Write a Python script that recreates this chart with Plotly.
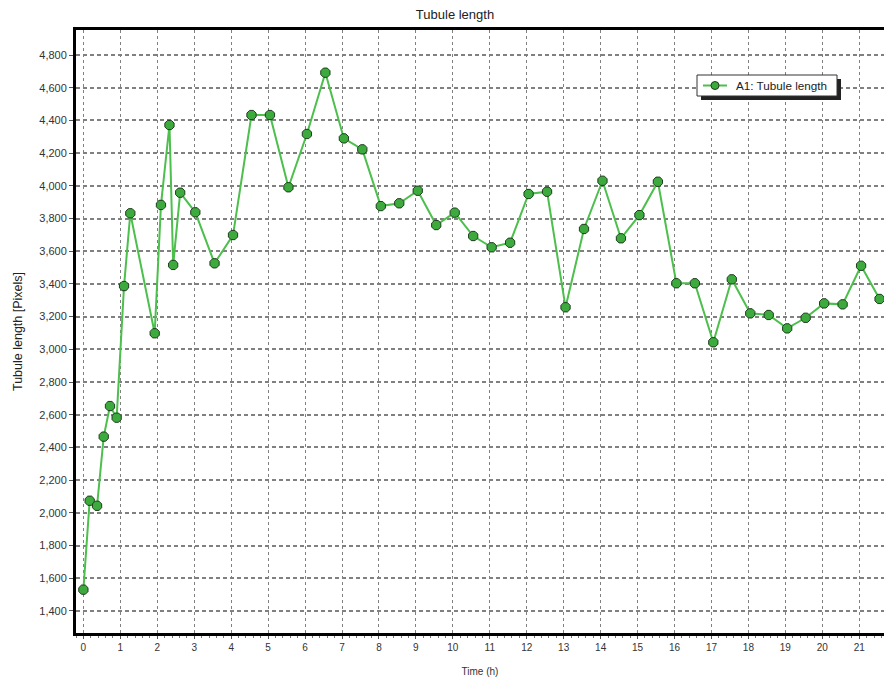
import plotly.graph_objects as go

time_h = [0, 0.17, 0.37, 0.55, 0.72, 0.9, 1.1, 1.27, 1.93, 2.1, 2.33, 2.43, 2.62, 3.03,
          3.55, 4.05, 4.55, 5.05, 5.55, 6.05, 6.55, 7.05, 7.55, 8.05, 8.55, 9.05, 9.55,
          10.05, 10.55, 11.05, 11.55, 12.05, 12.55, 13.05, 13.55, 14.05, 14.55, 15.05,
          15.55, 16.05, 16.55, 17.05, 17.55, 18.05, 18.55, 19.05, 19.55, 20.05, 20.55,
          21.05, 21.55]
tubule_length = [1530, 2074, 2043, 2466, 2653, 2582, 3387, 3832, 3098, 3883, 4372, 3516,
                 3958, 3838, 3526, 3699, 4433, 4433, 3991, 4317, 4692, 4290, 4223, 3876,
                 3893, 3970, 3760, 3836, 3693, 3624, 3652, 3950, 3964, 3257, 3736, 4031,
                 3679, 3821, 4025, 3404, 3404, 3043, 3428, 3220, 3210, 3128, 3193, 3281,
                 3275, 3511, 3308]
series_name = "A1: Tubule length"
x_ticks = list(range(0, 22))
y_ticks = list(range(1400, 4801, 200))

FONT = "Liberation Sans, Arial, sans-serif"
LINE_COLOR = "#4cbf4c"
MARKER_FILL = "#3daa3d"
MARKER_EDGE = "#1e3d1e"

W, H = 884, 680
L, R, T, B = 76, 0, 30, 680 - 633
pw = W - L - R
ph = H - T - B


def px(xp):
    return (xp - L) / pw


def py(yp):
    return (H - B - yp) / ph


fig = go.Figure()
fig.add_trace(go.Scatter(
    x=time_h, y=tubule_length, mode="lines+markers", name=series_name,
    line=dict(color=LINE_COLOR, width=2),
    marker=dict(symbol="octagon", size=10, color=MARKER_FILL,
                line=dict(color=MARKER_EDGE, width=1)),
    showlegend=False,
))

# custom legend box with drop shadow
lx0, lx1, ly0, ly1 = 697, 837, 75, 96
shapes = [
    dict(type="rect", xref="paper", yref="paper",
         x0=px(lx0 + 4), x1=px(lx1 + 4), y0=py(ly1 + 4), y1=py(ly0 + 4),
         fillcolor="#222222", line=dict(width=0), layer="above"),
    dict(type="rect", xref="paper", yref="paper",
         x0=px(lx0), x1=px(lx1), y0=py(ly1), y1=py(ly0),
         fillcolor="white", line=dict(color="#333333", width=1), layer="above"),
    dict(type="line", xref="paper", yref="paper",
         x0=px(703), x1=px(727), y0=py(85.5), y1=py(85.5),
         line=dict(color=LINE_COLOR, width=2), layer="above"),
    dict(type="circle", xref="paper", yref="paper",
         x0=px(711), x1=px(719), y0=py(89.5), y1=py(81.5),
         fillcolor=MARKER_FILL, line=dict(color=MARKER_EDGE, width=1), layer="above"),
]

fig.update_layout(
    width=W, height=H,
    margin=dict(l=L, r=R, t=T, b=B),
    paper_bgcolor="white", plot_bgcolor="white",
    font=dict(family=FONT, color="#333333", size=11),
    title=dict(text="Tubule length", x=455 / W, xanchor="center", xref="container",
               y=1 - 14 / H, yanchor="middle", yref="container",
               font=dict(size=13, color="#222222")),
    showlegend=False,
    shapes=shapes,
    annotations=[dict(text=series_name, xref="paper", yref="paper",
                      x=px(734), y=py(85.5), xanchor="left", yanchor="middle",
                      showarrow=False, font=dict(size=11.7, color="#222222"))],
    xaxis=dict(
        range=[-0.2, 21.67], tickvals=x_ticks, ticktext=[str(v) for v in x_ticks],
        showgrid=True, gridcolor="#808080", griddash="3px,3px", gridwidth=1.2,
        showline=True, linecolor="black", linewidth=3, mirror=True,
        ticks="outside", ticklen=3, tickcolor="#555555",
        minor=dict(dtick=0.2, ticks="outside", ticklen=2, tickcolor="#777777", showgrid=False),
        zeroline=False,
        tickfont=dict(size=10, color="#333333"),
        title=dict(text="Time (h)", font=dict(size=10, color="#333333"), standoff=16),
    ),
    yaxis=dict(
        range=[1265, 4953], tickvals=y_ticks, ticktext=[f"{v:,}" for v in y_ticks],
        showgrid=True, gridcolor="#808080", griddash="4px,3px", gridwidth=1.5,
        showline=True, linecolor="black", linewidth=3, mirror=False,
        ticks="outside", ticklen=4, tickcolor="#555555",
        zeroline=False,
        tickfont=dict(size=11, color="#333333"),
        title=dict(text="Tubule length [Pixels]", font=dict(size=12.5, color="#222222"), standoff=14),
    ),
)

fig.write_html(
    "out.html",
    config={"displayModeBar": False},
    post_script="document.body.style.margin='0';document.body.style.overflow='hidden';",
)
